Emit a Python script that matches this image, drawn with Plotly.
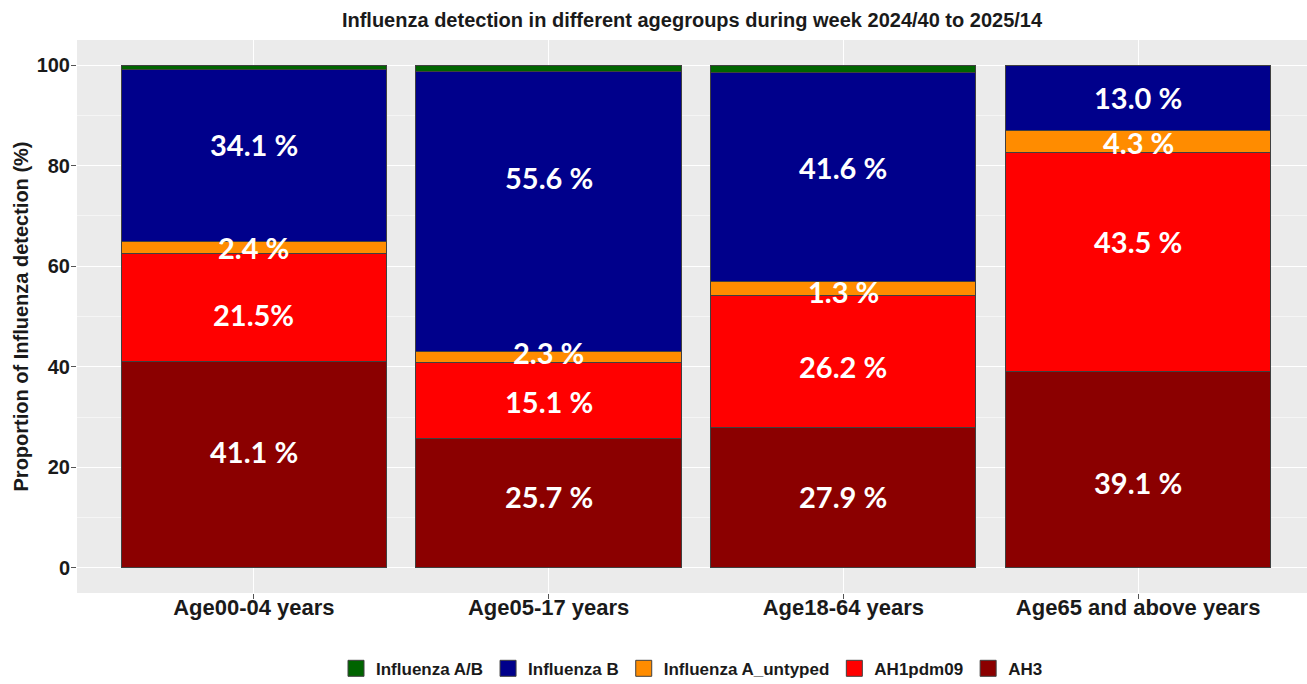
import plotly.graph_objects as go

categories = ["Age00-04 years", "Age05-17 years", "Age18-64 years", "Age65 and above years"]

# stacked shares (%), bottom to top
ah3 = [41.1, 25.7, 27.9, 39.1]
ah1pdm09 = [21.5, 15.1, 26.2, 43.5]
a_untyped = [2.4, 2.3, 2.8, 4.3]
infl_b = [34.1, 55.6, 41.6, 13.1]
infl_ab = [0.9, 1.3, 1.5, 0.0]

# printed labels and their vertical positions (%)
lab_ah3 = ["41.1 %", "25.7 %", "27.9 %", "39.1 %"]
lab_ah3_y = [23.1, 14.1, 14.1, 16.9]
lab_ah1 = ["21.5%", "15.1 %", "26.2 %", "43.5 %"]
lab_ah1_y = [50.4, 33.1, 40.0, 64.9]
lab_unt = ["2.4 %", "2.3 %", "1.3 %", "4.3 %"]
lab_unt_y = [63.7, 42.8, 55.0, 84.7]
lab_b = ["34.1 %", "55.6 %", "41.6 %", "13.0 %"]
lab_b_y = [84.3, 77.7, 79.7, 93.6]

series = [
    ("AH3", ah3, "#8B0000"),
    ("AH1pdm09", ah1pdm09, "#FF0000"),
    ("Influenza A_untyped", a_untyped, "#FF8C00"),
    ("Influenza B", infl_b, "#00008B"),
    ("Influenza A/B", infl_ab, "#006400"),
]

FONT = "Liberation Sans"
TXT = "#1a1a1a"

fig = go.Figure()
for name, vals, col in series:
    fig.add_trace(go.Bar(
        x=list(range(len(categories))), y=vals, name=name,
        marker=dict(color=col, line=dict(color="#404040", width=1)),
        width=0.9, hoverinfo="name+y", showlegend=False,
    ))

# legend entries (square keys), listed top-of-stack first
for name, vals, col in reversed(series):
    fig.add_trace(go.Scatter(
        x=[None], y=[None], mode="markers", name=name,
        marker=dict(symbol="square", size=17, color=col, line=dict(color="#404040", width=1)),
    ))

for labs, ys in [(lab_ah3, lab_ah3_y), (lab_ah1, lab_ah1_y), (lab_unt, lab_unt_y), (lab_b, lab_b_y)]:
    for i, (t, yv) in enumerate(zip(labs, ys)):
        fig.add_annotation(x=i, y=yv, xref="x", yref="y", text=t, showarrow=False,
                           font=dict(family="Lato", size=29, color="white", weight="bold"))

fig.update_layout(
    width=1307, height=684,
    barmode="stack",
    bargap=0.1,
    plot_bgcolor="#EBEBEB",
    paper_bgcolor="white",
    margin=dict(l=77, r=0, t=40, b=91, autoexpand=False),
    title=dict(text="<b>Influenza detection in different agegroups during week 2024/40 to 2025/14</b>",
               x=0.5, xref="paper", y=0.971, yanchor="middle",
               font=dict(family=FONT, size=20, color=TXT)),
    legend=dict(orientation="h", traceorder="normal", x=0.5, xanchor="center",
                y=-0.137, yanchor="middle",
                font=dict(family=FONT, size=17, color=TXT, weight="bold"),
                itemwidth=30, tracegroupgap=0),
    showlegend=True,
)
fig.update_xaxes(
    range=[-0.6, 3.573], tickvals=list(range(len(categories))), ticktext=categories,
    showgrid=True, gridcolor="white", gridwidth=1.2, zeroline=False, automargin=False,
    ticks="outside", ticklen=5, tickcolor="#555", ticklabelstandoff=-10,
    tickfont=dict(family=FONT, size=22, color=TXT, weight="bold"),
)
fig.update_yaxes(
    range=[-5, 105], tickvals=[0, 20, 40, 60, 80, 100],
    showgrid=True, gridcolor="white", gridwidth=1.2, zeroline=False, automargin=False,
    minor=dict(tickvals=[10, 30, 50, 70, 90], showgrid=True, gridcolor="#F5F5F5", gridwidth=0.6),
    ticks="outside", ticklen=5, tickcolor="#555", ticklabelstandoff=-3,
    tickfont=dict(family=FONT, size=20, color=TXT, weight="bold"),
    title=dict(text="<b>Proportion of Influenza detection (%)</b>", standoff=2,
               font=dict(family=FONT, size=20, color=TXT)),
)

fig.write_html("out.html", config={"displayModeBar": False},
               post_script="document.body.style.margin='0';document.body.style.overflow='hidden';")
